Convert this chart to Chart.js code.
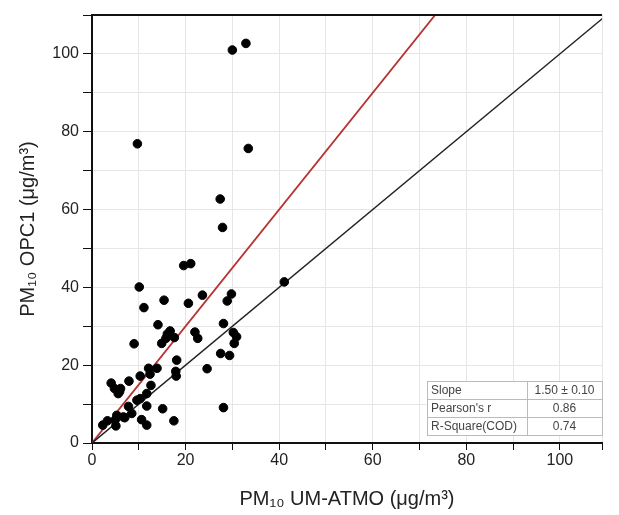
<!DOCTYPE html>
<html lang="en">
<head>
  <meta charset="UTF-8">
  <title>PM10 OPC1 vs UM-ATMO</title>
  <script src="https://cdn.jsdelivr.net/npm/chart.js"></script>
  <style>
    body { margin: 0; background: #fff; }
    .chart-box { width: 619px; height: 515px; }
  </style>
</head>
<body>
  <div class="chart-box">
    <canvas id="scatterChart"></canvas>
  </div>

  <script>
    // PM10 UM-ATMO (x) vs PM10 OPC1 (y), µg/m3
    const umAtmo = [30.0, 32.9, 9.7, 33.4, 27.4, 27.9, 19.6, 21.1, 41.1, 10.1,
                    11.1, 15.4, 20.6, 23.6, 29.8, 28.9, 28.1, 14.1, 16.7, 16.1,
                    15.8, 14.9, 17.6, 22.0, 22.6, 30.2, 30.9, 30.4, 9.0, 27.5,
                    29.4, 18.1, 24.6, 17.9, 18.0, 13.9, 12.1, 12.4, 10.3, 12.6,
                    7.9, 4.1, 4.8, 6.1, 5.6, 11.7, 10.3, 9.6, 7.8, 11.7,
                    15.1, 28.1, 8.5, 6.7, 5.3, 4.9, 3.3, 2.3, 5.1, 10.6,
                    11.7, 17.5, 5.9, 7.0];
    const opc1   = [101.0, 102.7, 76.9, 75.7, 62.7, 55.4, 45.6, 46.1, 41.4, 40.1,
                    34.8, 36.7, 35.9, 38.0, 38.3, 36.5, 30.7, 30.4, 28.8, 28.0,
                    26.9, 25.6, 27.1, 28.5, 26.9, 28.4, 27.3, 25.6, 25.5, 23.0,
                    22.5, 21.3, 19.1, 18.4, 17.2, 19.2, 19.2, 17.7, 17.2, 14.8,
                    15.9, 15.4, 14.0, 14.0, 12.7, 12.7, 11.4, 11.0, 9.4, 9.5,
                    8.8, 9.1, 7.6, 6.7, 7.1, 5.8, 5.7, 4.6, 4.4, 6.0,
                    4.6, 5.7, 13.2, 6.5];

    // reference lines
    const lineX = [0, 110];
    const slope = 1.5;

    // fit statistics table
    const statNames  = ['Slope', "Pearson's r", 'R-Square(COD)'];
    const statValues = ['1.50 ± 0.10', '0.86', '0.74'];

    const points = umAtmo.map((x, i) => ({ x: x, y: opc1[i] }));

    // top frame line + stats table
    const framePlugin = {
      id: 'framePlugin',
      afterDraw(chart) {
        const { ctx, chartArea } = chart;
        ctx.save();
        ctx.strokeStyle = '#111';
        ctx.lineWidth = 2;
        ctx.beginPath();
        ctx.moveTo(chartArea.left, chartArea.top);
        ctx.lineTo(chartArea.right, chartArea.top);
        ctx.stroke();

        // table
        const rowH = 18;
        const w = 175, col = 100;
        const left = chartArea.right - w;
        const top = chartArea.bottom - 8 - rowH * statNames.length;
        ctx.fillStyle = '#fff';
        ctx.fillRect(left, top, w, rowH * statNames.length);
        ctx.lineWidth = 1;
        ctx.strokeStyle = '#bbb';
        ctx.strokeRect(left + 0.5, top + 0.5, w, rowH * statNames.length);
        ctx.beginPath();
        for (let i = 1; i < statNames.length; i++) {
          ctx.moveTo(left, top + i * rowH + 0.5);
          ctx.lineTo(left + w, top + i * rowH + 0.5);
        }
        ctx.moveTo(left + col + 0.5, top);
        ctx.lineTo(left + col + 0.5, top + rowH * statNames.length);
        ctx.stroke();
        ctx.font = '12px "Liberation Sans", Arial, sans-serif';
        ctx.fillStyle = '#444';
        ctx.textBaseline = 'middle';
        statNames.forEach((name, i) => {
          ctx.textAlign = 'left';
          ctx.fillText(name, left + 4, top + i * rowH + rowH / 2 + 1);
          ctx.textAlign = 'center';
          ctx.fillText(statValues[i], left + col + (w - col) / 2, top + i * rowH + rowH / 2 + 1);
        });
        ctx.restore();
      }
    };

    const tickFont = { family: '"Liberation Sans", Arial, sans-serif', size: 16 };
    const titleFont = { family: '"Liberation Sans", Arial, sans-serif', size: 20 };

    new Chart(document.getElementById('scatterChart'), {
      type: 'scatter',
      data: {
        datasets: [
          {
            label: 'data',
            data: points,
            backgroundColor: '#000',
            borderColor: '#000',
            pointRadius: 4.3,
            order: 1
          },
          {
            label: '1:1',
            type: 'line',
            data: lineX.map(x => ({ x: x, y: x })),
            borderColor: '#222',
            borderWidth: 1.5,
            pointRadius: 0,
            order: 2
          },
          {
            label: 'fit',
            type: 'line',
            data: lineX.map(x => ({ x: x, y: x * slope })),
            borderColor: '#b83232',
            borderWidth: 1.8,
            pointRadius: 0,
            order: 3
          }
        ]
      },
      options: {
        responsive: true,
        maintainAspectRatio: false,
        animation: false,
        layout: { padding: { top: 15, right: 17, left: 12, bottom: 0 } },
        plugins: {
          legend: { display: false },
          tooltip: { enabled: false }
        },
        scales: {
          x: {
            type: 'linear',
            min: 0,
            max: 109,
            afterFit: s => { s.height = 72; },
            border: { color: '#111', width: 2 },
            grid: { color: '#e6e6e6', tickColor: '#111', tickLength: 7 },
            ticks: {
              stepSize: 10,
              color: '#222',
              font: tickFont,
              padding: 1,
              maxRotation: 0,
              callback: v => (v % 20 === 0 ? v : '')
            },
            title: {
              display: true,
              text: 'PM₁₀ UM-ATMO (μg/m³)',
              color: '#222',
              font: titleFont,
              padding: { top: 6 }
            }
          },
          y: {
            type: 'linear',
            min: 0,
            max: 110,
            afterFit: s => { s.width = 80; },
            border: { color: '#111', width: 2 },
            grid: { color: '#e6e6e6', tickColor: '#111', tickLength: 9 },
            ticks: {
              stepSize: 10,
              color: '#222',
              font: tickFont,
              padding: 4,
              callback: v => (v % 20 === 0 ? v : '')
            },
            title: {
              display: true,
              text: 'PM₁₀ OPC1 (μg/m³)',
              color: '#222',
              font: titleFont,
              padding: { bottom: 4 }
            }
          }
        }
      },
      plugins: [framePlugin]
    });
  </script>
</body>
</html>
